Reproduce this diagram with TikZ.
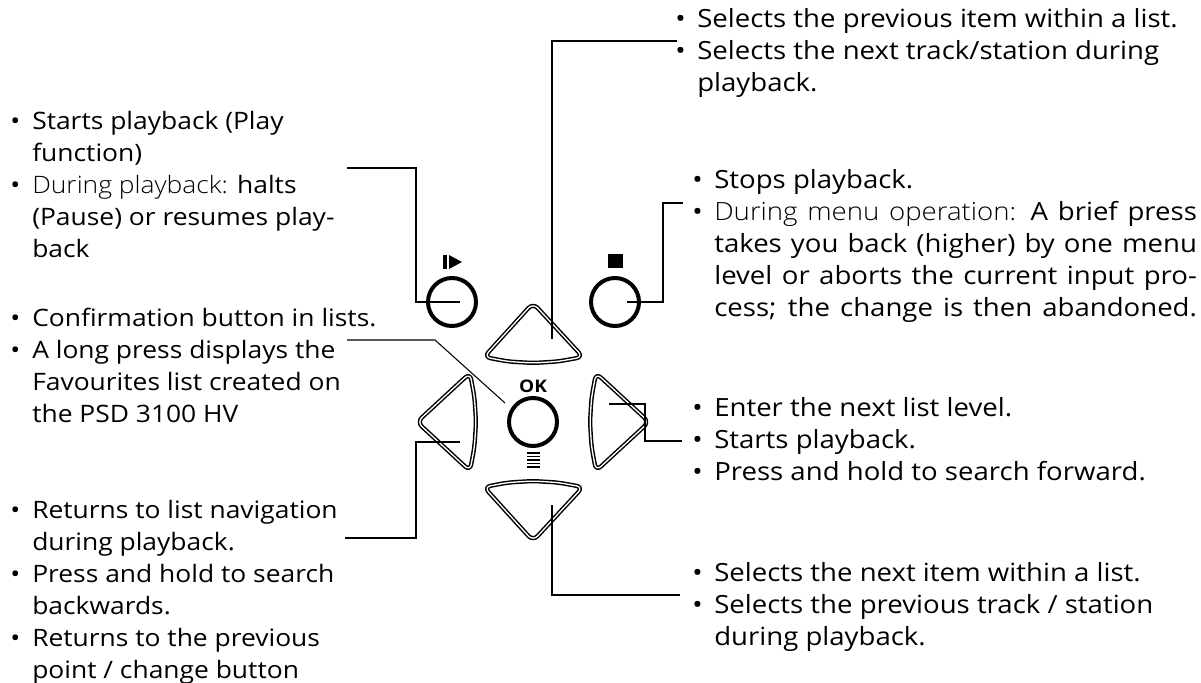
\documentclass[tikz,border=0pt]{standalone}
\usepackage{fontspec}
\setmainfont{Open Sans}[FakeStretch=1.1]
\IfFontExistsTF{Open Sans Light}
  {\newfontfamily\lightfont{Open Sans Light}[FakeStretch=1.1]}
  {\newcommand{\lightfont}{\color{black!65}}}
\usetikzlibrary{positioning}
\tikzset{
  every node/.style={
    align=left,
    inner sep=0pt,
    font=\fontsize{18}{24}\selectfont,
  },
  leader/.style={draw, line width=0.8pt},
  roundbtn/.style={circle, draw, line width=3pt, minimum size=36pt},
  arrowbtn/.style={draw, line width=1.1pt, double, double distance=1pt,
    rounded corners=5pt, line join=round},
  note/.style={anchor=base west},
  rnote/.style={note, font=\fontsize{18.8}{24}\selectfont},
}
\newcommand{\itm}{\makebox[16.5pt][l]{•}}
\newcommand{\cnt}{\hspace*{16.5pt}}
\newcommand{\lt}[1]{{\lightfont #1}}
\newcommand{\jl}[1]{\makebox[362pt][s]{#1}}

\begin{document}
\begin{tikzpicture}[x=0.75pt, y=-0.75pt]
    \useasboundingbox (0,0) rectangle (1201,682);
    \node[roundbtn] (play) at (452,302) {};
    \node[roundbtn] (stop) at (615,302) {};
    \node[roundbtn] (ok) at (533,422) {};
    \draw[arrowbtn] (533,303) -- (484,357) -- (508,361.5) -- (533,363)
      -- (558,361.5) -- (583,357) -- cycle;
    \draw[arrowbtn] (533,541) -- (484,487) -- (508,482.5) -- (533,481)
      -- (558,482.5) -- (583,487) -- cycle;
    \draw[arrowbtn] (470,373) -- (417,422) -- (470,471) -- (474.5,446.5)
      -- (476,422) -- (474.5,397.5) -- cycle;
    \draw[arrowbtn] (596,373) -- (649,422) -- (596,471) -- (591.5,446.5)
      -- (590,422) -- (591.5,397.5) -- cycle;
    \fill (443,255) rectangle (446.5,269);
    \fill (449,255) -- (462,262) -- (449,269) -- cycle;
    \fill (608,254) rectangle (623,268);
    \node[font=\bfseries\fontsize{13}{13}\selectfont] (oklabel) at (533,386) {OK};
    \foreach \y in {453,456.5,460,463.5,467}
      \draw[line width=1.1pt] (527,\y) -- (540,\y);

    \node[note] (playtxt) at (10,257) {\itm Starts playback (Play\\
      \cnt function)\\ \itm \lt{During playback:} halts\\
      \cnt (Pause) or resumes play-\\ \cnt back};
    \node[note] (oktxt) at (10,422) {\itm Confirmation button in lists.\\
      \itm A long press displays the\\ \cnt Favourites list created on\\
      \cnt the PSD 3100 HV};
    \node[note] (lefttxt) at (10,678) {\itm Returns to list navigation\\
      \cnt during playback.\\ \itm Press and hold to search\\
      \cnt backwards.\\ \itm Returns to the previous\\
      \cnt point / change button};
    \node[rnote] (uptxt) at (675,91) {\itm Selects the previous item within a list.\\
      \itm Selects the next track/station during\\ \cnt playback.};
    \node[rnote] (stoptxt) at (692,316) {\itm Stops playback.\\
      \itm\jl{\lt{During menu operation:} A brief press}\\
      \cnt\jl{takes you back (higher) by one menu}\\
      \cnt\jl{level or aborts the current input pro-}\\
      \cnt\jl{cess; the change is then abandoned.}};
    \node[rnote] (righttxt) at (692,480) {\itm Enter the next list level.\\
      \itm Starts playback.\\ \itm Press and hold to search forward.};
    \node[rnote] (downtxt) at (692,645) {\itm Selects the next item within a list.\\
      \itm Selects the previous track / station\\ \cnt during playback.};

    \coordinate (playend) at (347,168);
    \coordinate (playin) at (460,302);
    \coordinate (okend) at (347,340);
    \coordinate (okin) at (505,403);
    \coordinate (leftend) at (345,538);
    \coordinate (leftin) at (460,442);
    \coordinate (upend) at (677,41);
    \coordinate (upin) at (552,339);
    \coordinate (stopend) at (683,203);
    \coordinate (stopin) at (627,302);
    \coordinate (rightend) at (682,441);
    \coordinate (rightin) at (609,404);
    \coordinate (downend) at (680,595);
    \coordinate (downin) at (552,505);

    \draw[leader] (playend) -- ++(69,0) |- (playin);
    \draw[leader] (okend) -- ++(88,0) -- (okin);
    \draw[leader] (leftend) -- ++(71,0) |- (leftin);
    \draw[leader] (upend) -| (upin);
    \draw[leader] (stopend) -- ++(-20,0) |- (stopin);
    \draw[leader] (rightend) -- ++(-37,0) |- (rightin);
    \draw[leader] (downend) -| (downin);
\end{tikzpicture}
\end{document}
